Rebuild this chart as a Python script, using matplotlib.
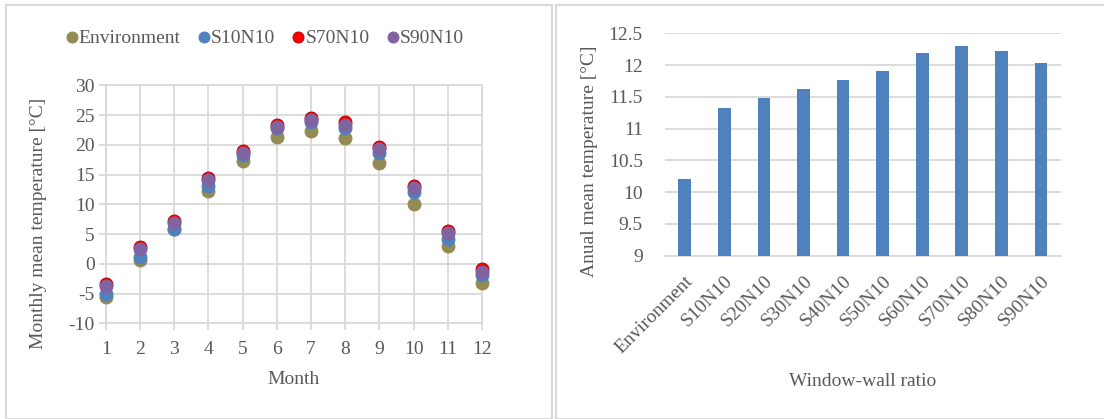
import matplotlib
matplotlib.use("Agg")
import matplotlib.pyplot as plt
from matplotlib.patches import Rectangle

plt.rcParams['font.family'] = ['Liberation Serif', 'DejaVu Serif']
plt.rcParams['axes.unicode_minus'] = False

months = [1, 2, 3, 4, 5, 6, 7, 8, 9, 10, 11, 12]
environment = [-5.5, 0.6, 5.8, 12.3, 17.3, 21.3, 22.4, 21.1, 16.9, 10.0, 3.0, -3.3]
s10n10 = [-5.0, 1.2, 5.8, 13.1, 18.3, 22.8, 23.9, 22.8, 18.6, 12.0, 4.2, -1.9]
s70n10 = [-3.4, 2.8, 7.2, 14.4, 19.0, 23.4, 24.5, 23.8, 19.7, 13.1, 5.5, -0.9]
s90n10 = [-3.7, 2.5, 6.9, 14.0, 18.6, 23.0, 24.2, 23.4, 19.3, 12.7, 5.1, -1.3]

bar_labels = ['Environment', 'S10N10', 'S20N10', 'S30N10', 'S40N10',
              'S50N10', 'S60N10', 'S70N10', 'S80N10', 'S90N10']
bar_values = [10.21, 11.33, 11.48, 11.62, 11.77, 11.91, 12.19, 12.30, 12.22, 12.03]

W, H = 1104, 419
fig = plt.figure(figsize=(W / 100, H / 100), dpi=100)
txt = '#595959'
grid = '#d9d9d9'
fs = 14

# panel borders
fig.patches.append(Rectangle((6 / W, 0), 546 / W, 1 - 5 / H, transform=fig.transFigure,
                             fill=False, edgecolor=grid, lw=1.5))
fig.patches.append(Rectangle((556 / W, 0), 560 / W, 1 - 5 / H, transform=fig.transFigure,
                             fill=False, edgecolor=grid, lw=1.5))

# Left: scatter
ax1 = fig.add_axes([105.7 / W, 1 - 323.3 / H, (482 - 105.7) / W, (323.3 - 85.3) / H])
series = [('Environment', environment, '#948A54'),
          ('S10N10', s10n10, '#4F81BD'),
          ('S70N10', s70n10, '#FF0000'),
          ('S90N10', s90n10, '#8064A2')]
for name, vals, col in series:
    ec = '#C00000' if col == '#FF0000' else col
    ax1.scatter(months, vals, s=85, color=col, edgecolors=ec, linewidths=0.8,
                label=name, zorder=3, clip_on=False)
ax1.set_xlim(1, 12)
ax1.set_ylim(-10, 30)
ax1.set_xticks(months)
ax1.set_yticks(range(-10, 31, 5))
ax1.grid(True, color=grid, lw=1.3)
ax1.set_axisbelow(True)
for s in ax1.spines.values():
    s.set_color(grid)
    s.set_linewidth(1.3)
ax1.tick_params(axis='both', colors=grid, labelcolor=txt, labelsize=fs, length=5, width=1.3)
ax1.tick_params(axis='x', pad=8)
ax1.tick_params(axis='y', pad=3)
ax1.set_xlabel('Month', color=txt, fontsize=fs, labelpad=9)
ax1.set_ylabel('Monthly mean temperature [°C]', color=txt, fontsize=fs)
ax1.yaxis.set_label_coords(-0.156, 0.42)
leg = ax1.legend(loc='center', bbox_to_anchor=(0.423, 1.2), ncol=4, frameon=False,
                 fontsize=fs, handlelength=0.6, handletextpad=0.05, columnspacing=0.9,
                 labelcolor=txt, markerscale=0.85, borderpad=0.2)

# Right: bars
ax2 = fig.add_axes([665 / W, 1 - 255.7 / H, (1060.7 - 665) / W, (255.7 - 33.3) / H])
x = list(range(len(bar_labels)))
ax2.bar(x, bar_values, width=0.32, color='#4F81BD', zorder=3)
ax2.set_xlim(-0.5, len(bar_labels) - 0.5)
ax2.set_ylim(9, 12.5)
ax2.set_yticks([9, 9.5, 10, 10.5, 11, 11.5, 12, 12.5])
ax2.set_yticklabels(['9', '9.5', '10', '10.5', '11', '11.5', '12', '12.5'])
ax2.set_xticks(x)
ax2.set_xticklabels(bar_labels, rotation=45, ha='right', rotation_mode='anchor')
ax2.yaxis.grid(True, color=grid, lw=1.3)
ax2.set_axisbelow(True)
for k, s in ax2.spines.items():
    if k == 'bottom':
        s.set_color(grid)
        s.set_linewidth(1.3)
    else:
        s.set_visible(False)
ax2.tick_params(axis='both', length=0, labelcolor=txt, labelsize=fs)
ax2.tick_params(axis='y', pad=16)
ax2.tick_params(axis='x', pad=12)
ax2.set_xlabel('Window-wall ratio', color=txt, fontsize=fs, labelpad=12)
ax2.set_ylabel('Anual mean temperature [°C]', color=txt, fontsize=fs)
ax2.yaxis.set_label_coords(-0.169, 0.426)

fig.savefig('out.png', dpi=100)
